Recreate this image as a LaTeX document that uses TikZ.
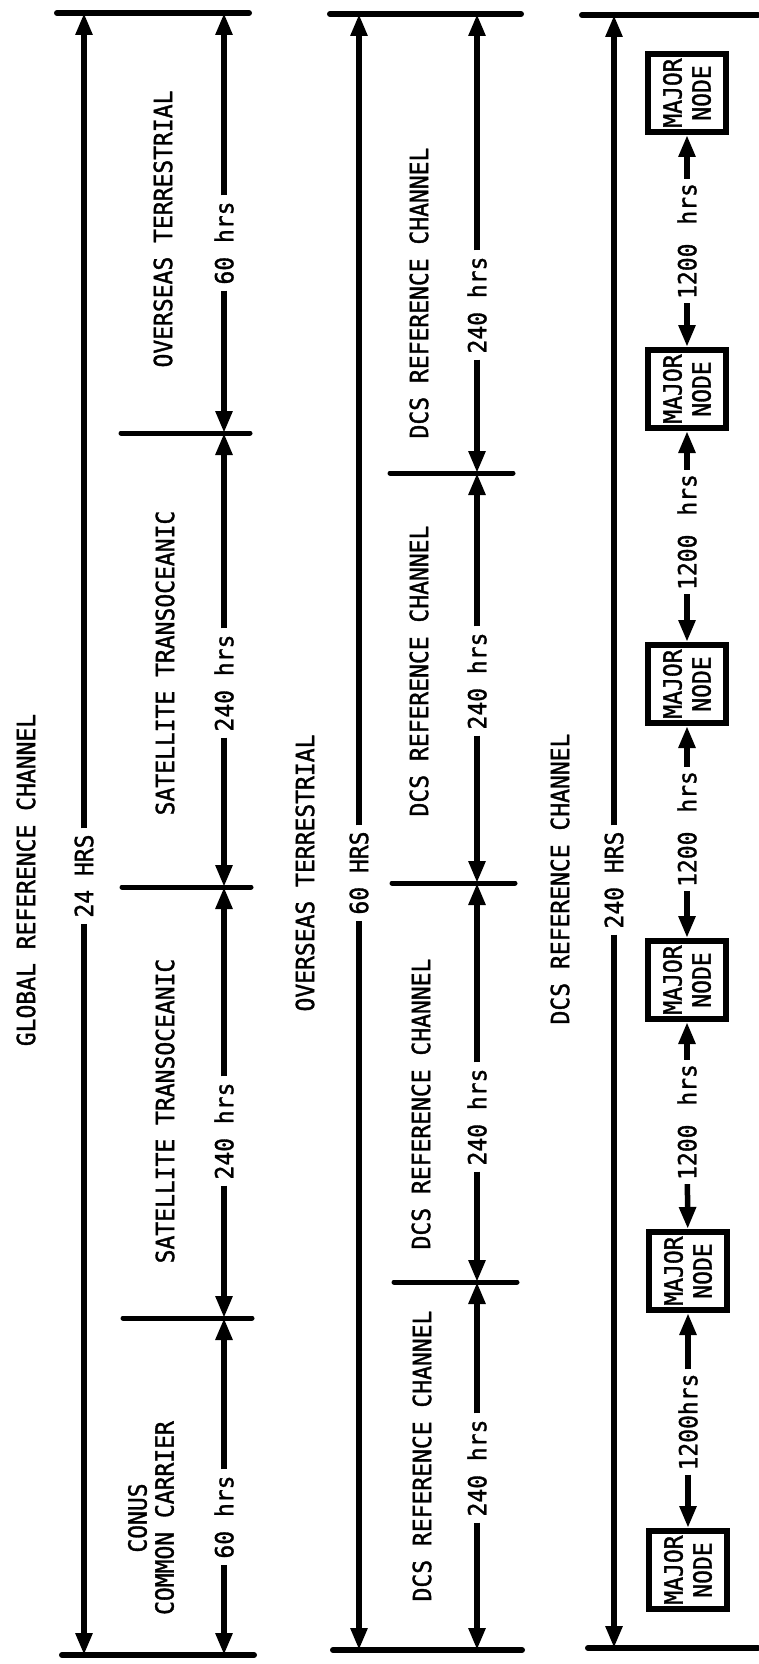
\documentclass[tikz,border=0pt]{standalone}
\usepackage{fontspec}
\newfontfamily\lett[FakeStretch=0.92,FakeBold=1.3]{DejaVu Sans Mono}
\usetikzlibrary{arrows.meta}
\begin{document}
\begin{tikzpicture}[x=1pt,y=-1pt,
  lbl/.style={rotate=90,font=\lett\fontsize{25}{27}\selectfont,inner sep=6pt,align=center},
  ttl/.style={rotate=90,font=\lett\fontsize{25}{27}\selectfont,inner sep=0pt,align=center},
  arr/.style={line width=5.5pt,-{Triangle[length=22pt,width=16pt]}},
  bar/.style={line width=6pt,line cap=round},
  tick/.style={line width=5pt,line cap=round},
  mnode/.style={rotate=90,draw,line width=6pt,minimum size=78pt,inner sep=0pt,align=center,
    font=\lett\fontsize{25}{29}\selectfont}]
\useasboundingbox (0,0) rectangle (758,1664);
\fill[white] (0,0) rectangle (758,1664);

% ---------------- column 1 : global ----------------
\draw[bar] (57,13) -- (249,13);
\draw[bar] (62,1655) -- (254,1655);
\coordinate (c1t) at (84,13);
\coordinate (c1b) at (84,1655);
\node[lbl] (h24) at (84,876) {24 HRS};
\draw[arr] (h24) -- (c1t);
\draw[arr] (h24) -- (c1b);
\node[ttl] (tglobal) at (26,880) {GLOBAL REFERENCE CHANNEL};

\coordinate (i1t) at (224,13);
\coordinate (i1b) at (224,1655);
\draw[tick] (121,433) -- (250,433);
\draw[tick] (122,887) -- (251,887);
\draw[tick] (123,1318) -- (252,1318);
\coordinate (k1) at (224,433);
\coordinate (k2) at (224,887);
\coordinate (k3) at (224,1318);
\node[lbl] (o60) at (224,243) {60 hrs};
\node[lbl] (s240a) at (224,683) {240 hrs};
\node[lbl] (s240b) at (224,1131) {240 hrs};
\node[lbl] (c60) at (224,1517) {60 hrs};
\draw[arr] (o60) -- (i1t);
\draw[arr] (o60) -- (k1);
\draw[arr] (s240a) -- (k1);
\draw[arr] (s240a) -- (k2);
\draw[arr] (s240b) -- (k2);
\draw[arr] (s240b) -- (k3);
\draw[arr] (c60) -- (k3);
\draw[arr] (c60) -- (i1b);
\node[ttl] (tover1) at (163,229) {OVERSEAS TERRESTRIAL};
\node[ttl] (tsat1) at (165,663) {SATELLITE TRANSOCEANIC};
\node[ttl] (tsat2) at (165,1111) {SATELLITE TRANSOCEANIC};
\node[ttl] (tconus) at (151,1518) {CONUS\\COMMON CARRIER};

% ---------------- column 2 : overseas ----------------
\draw[bar] (330,14) -- (521,14);
\draw[bar] (333,1650) -- (522,1650);
\coordinate (c2t) at (359,14);
\coordinate (c2b) at (359,1650);
\node[lbl] (h60) at (359,873) {60 HRS};
\draw[arr] (h60) -- (c2t);
\draw[arr] (h60) -- (c2b);
\node[ttl] (tover2) at (305,873) {OVERSEAS TERRESTRIAL};

\coordinate (i2t) at (477,14);
\coordinate (i2b) at (477,1650);
\draw[tick] (390,473) -- (513,473);
\draw[tick] (392,883) -- (515,883);
\draw[tick] (394,1282) -- (517,1282);
\coordinate (k4) at (477,473);
\coordinate (k5) at (477,883);
\coordinate (k6) at (477,1282);
\node[lbl] (d240a) at (477,305) {240 hrs};
\node[lbl] (d240b) at (477,681) {240 hrs};
\node[lbl] (d240c) at (477,1117) {240 hrs};
\node[lbl] (d240d) at (477,1468) {240 hrs};
\draw[arr] (d240a) -- (i2t);
\draw[arr] (d240a) -- (k4);
\draw[arr] (d240b) -- (k4);
\draw[arr] (d240b) -- (k5);
\draw[arr] (d240c) -- (k5);
\draw[arr] (d240c) -- (k6);
\draw[arr] (d240d) -- (k6);
\draw[arr] (d240d) -- (i2b);
\node[ttl] (tdcs1) at (419,293) {DCS REFERENCE CHANNEL};
\node[ttl] (tdcs2) at (419,671) {DCS REFERENCE CHANNEL};
\node[ttl] (tdcs3) at (421,1104) {DCS REFERENCE CHANNEL};
\node[ttl] (tdcs4) at (422,1456) {DCS REFERENCE CHANNEL};

% ---------------- column 3 : DCS ----------------
\draw[bar] (582,15) -- (758,15);
\draw[bar] (588,1648) -- (758,1648);
\coordinate (c3t) at (614,15);
\coordinate (c3b) at (614,1648);
\node[lbl] (h240) at (614,880) {240 HRS};
\draw[arr] (h240) -- (c3t);
\draw[arr] (h240) -- (c3b);
\node[ttl] (tdcs5) at (560,879) {DCS REFERENCE CHANNEL};

\node[mnode] (b1) at (687,93) {MAJOR\\NODE};
\node[mnode] (b2) at (687,389) {MAJOR\\NODE};
\node[mnode] (b3) at (687,684) {MAJOR\\NODE};
\node[mnode] (b4) at (687,980) {MAJOR\\NODE};
\node[mnode] (b5) at (688,1271) {MAJOR\\NODE};
\node[mnode] (b6) at (688,1570) {MAJOR\\NODE};
\node[lbl,inner sep=4pt] (m1) at (687,241) {1200\kern5pt{} hrs};
\node[lbl,inner sep=4pt] (m2) at (687,532) {1200\kern5pt{} hrs};
\node[lbl,inner sep=4pt] (m3) at (687,829) {1200\kern5pt{} hrs};
\node[lbl,inner sep=4pt] (m4) at (687,1122) {1200\kern5pt{} hrs};
\node[lbl,inner sep=4pt] (m5) at (688,1422) {1200hrs};
\draw[arr] (m1) -- (b1);
\draw[arr] (m1) -- (b2);
\draw[arr] (m2) -- (b2);
\draw[arr] (m2) -- (b3);
\draw[arr] (m3) -- (b3);
\draw[arr] (m3) -- (b4);
\draw[arr] (m4) -- (b4);
\draw[arr] (m4) -- (b5);
\draw[arr] (m5) -- (b5);
\draw[arr] (m5) -- (b6);
\end{tikzpicture}
\end{document}
